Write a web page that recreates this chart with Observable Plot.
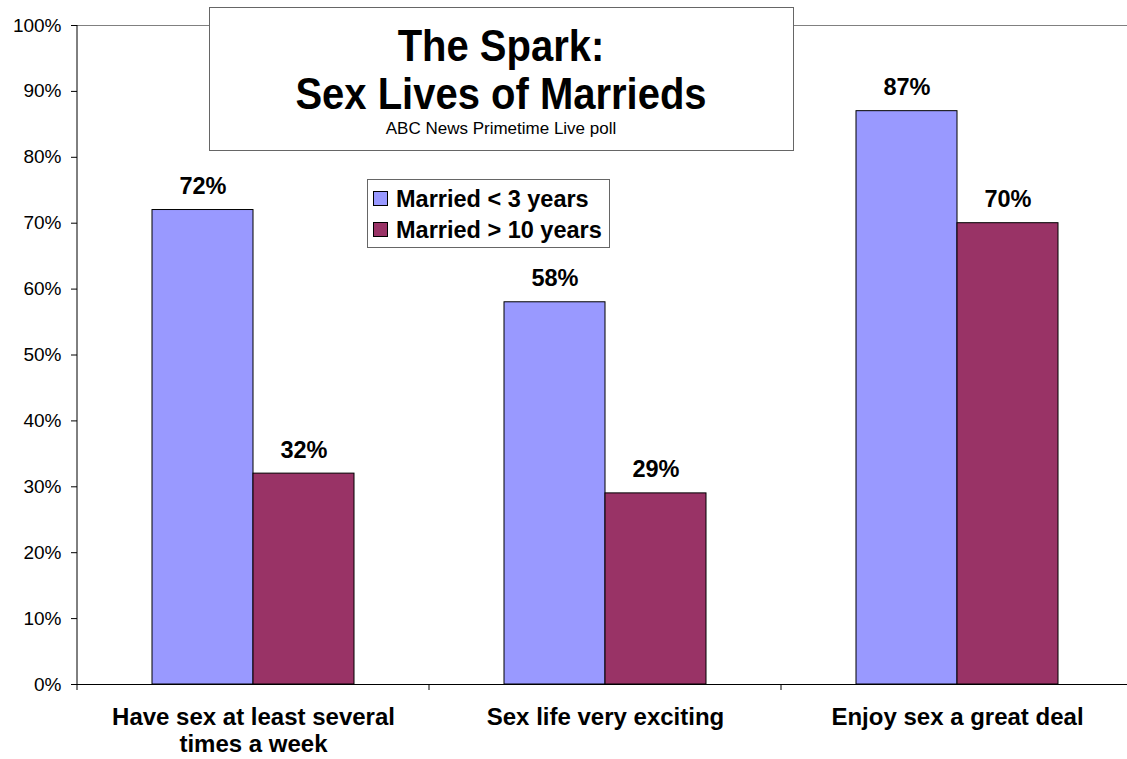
<!DOCTYPE html>
<html>
<head>
<meta charset="utf-8">
<script src="https://cdn.jsdelivr.net/npm/d3@7"></script>
<script src="https://cdn.jsdelivr.net/npm/@observablehq/plot@0.6"></script>
<style>
  html, body { margin: 0; padding: 0; background: white; overflow: hidden; }
  #wrap { position: relative; width: 1127px; height: 759px; font-family: "Liberation Sans", Arial, sans-serif; }
  #overlay { position: absolute; left: 0; top: 0; pointer-events: none; }
</style>
</head>
<body>
<div id="wrap"></div>
<script>
// ---- data ----
const categories = ["Have sex at least several times a week", "Sex life very exciting", "Enjoy sex a great deal"];
const categoryLabels = ["Have sex at least several\ntimes a week", "Sex life very exciting", "Enjoy sex a great deal"];
const seriesNames = ["Married < 3 years", "Married > 10 years"];
const recentValues = [0.72, 0.58, 0.87];
const longValues = [0.32, 0.29, 0.70];
const seriesColors = ["#9999FF", "#993366"];
const titleLines = ["The Spark:", "Sex Lives of Marrieds"];
const subtitle = "ABC News Primetime Live poll";

const recentRows = categories.map((c, i) => ({category: c, value: recentValues[i]}));
const longRows = categories.map((c, i) => ({category: c, value: longValues[i]}));

const paddingInner = 150 / 352;
const paddingOuter = 75 / 352;
const pct = d3.format(".0%");
const FONT = "'Liberation Sans', Arial, sans-serif";

// boundary ticks + y axis line, positioned from the scales
function categoryFrame(index, scales, values, dims) {
  const x = scales.x, y = scales.y;
  const step = x(categories[1]) - x(categories[0]);
  const outer = step * paddingOuter;
  const g = d3.create("svg:g");
  const left = x(categories[0]) - outer;
  g.append("line").attr("x1", left).attr("x2", left).attr("y1", y(1)).attr("y2", y(0)).attr("stroke", "black");
  for (let i = 0; i <= categories.length; i++) {
    const bx = left + i * step;
    g.append("line").attr("x1", bx).attr("x2", bx).attr("y1", y(0)).attr("y2", y(0) + 6).attr("stroke", "black");
  }
  return g.node();
}

const barW = 101;
const chart = Plot.plot({
  width: 1127,
  height: 759,
  marginTop: 25,
  marginBottom: 75,
  marginLeft: 77,
  marginRight: 0,
  style: {fontFamily: FONT, background: "white", color: "black", overflow: "visible"},
  x: {domain: categories, range: [77, 1133], paddingInner, paddingOuter},
  y: {domain: [0, 1]},
  marks: [
    Plot.ruleY([1], {stroke: "#808080"}),
    Plot.barY(recentRows, {x: "category", y: "value", fill: seriesColors[0], stroke: "black", insetRight: barW}),
    Plot.barY(longRows, {x: "category", y: "value", fill: seriesColors[1], stroke: "black", insetLeft: barW}),
    Plot.text(recentRows, {x: "category", y: "value", text: d => pct(d.value), dx: -barW / 2, dy: -16, lineAnchor: "bottom", fontSize: 23.5, fontWeight: "bold", fill: "black"}),
    Plot.text(longRows, {x: "category", y: "value", text: d => pct(d.value), dx: barW / 2, dy: -16, lineAnchor: "bottom", fontSize: 23.5, fontWeight: "bold", fill: "black"}),
    Plot.ruleY([0], {stroke: "black"}),
    Plot.axisY({ticks: 10, tickFormat: pct, tickSize: 6, tickPadding: 10, fontSize: 19, label: null}),
    Plot.axisX({tickSize: 0, tickPadding: 21, fontSize: 24, fontWeight: "bold", lineHeight: 1.13, label: null,
      tickFormat: d => categoryLabels[categories.indexOf(d)]}),
    categoryFrame
  ]
});

const wrap = document.getElementById("wrap");
wrap.appendChild(chart);

// ---- overlay: title box and legend ----
const ov = d3.select(wrap).append("svg").attr("id", "overlay").attr("width", 1127).attr("height", 759)
  .style("font-family", FONT);

const tb = ov.append("g").attr("transform", "translate(209,7)");
tb.append("rect").attr("x", 0.5).attr("y", 0.5).attr("width", 584).attr("height", 143)
  .attr("fill", "white").attr("stroke", "#666");
[54, 102].forEach((by, i) => {
  tb.append("text").attr("transform", `translate(292,${by}) scale(1,1.12)`)
    .attr("text-anchor", "middle").attr("font-size", 40).attr("font-weight", "bold").attr("fill", "black")
    .text(titleLines[i]);
});
tb.append("text").attr("x", 292).attr("y", 127).attr("text-anchor", "middle")
  .attr("font-size", 17).attr("fill", "black").text(subtitle);

const lg = ov.append("g").attr("transform", "translate(367,179)");
lg.append("rect").attr("x", 0.5).attr("y", 0.5).attr("width", 242).attr("height", 68)
  .attr("fill", "white").attr("stroke", "#666");
seriesNames.forEach((name, i) => {
  const ry = 12 + i * 31;
  lg.append("rect").attr("x", 6.5).attr("y", ry + 0.5).attr("width", 14).attr("height", 14)
    .attr("fill", seriesColors[i]).attr("stroke", "black");
  lg.append("text").attr("x", 29).attr("y", ry + 15.5).attr("font-size", 23.5).attr("font-weight", "bold")
    .attr("fill", "black").text(name);
});
</script>
</body>
</html>
